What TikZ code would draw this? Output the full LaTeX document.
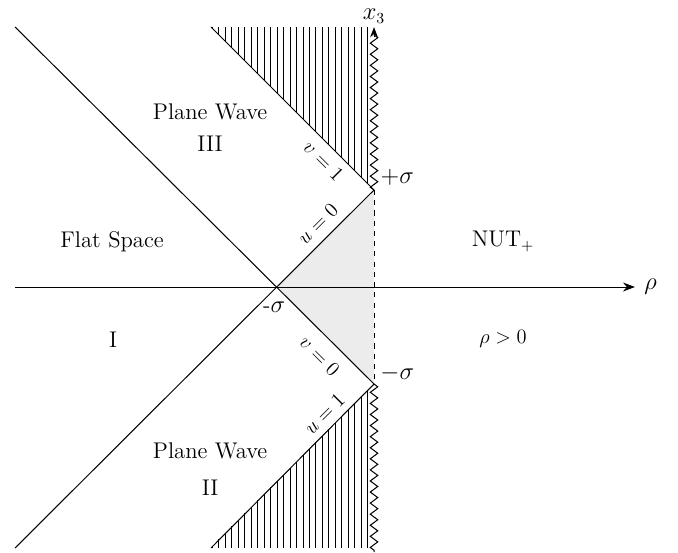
\documentclass[tikz,border=0pt]{standalone}
\usepackage{amsmath,amssymb}
\usepackage{tikz}
\usetikzlibrary{arrows.meta,decorations.pathmorphing}
\definecolor{coneshade}{RGB}{236,236,236}

\begin{document}
\begin{tikzpicture}[x=2cm, y=2cm, line width=0.6pt,
  wall/.style={decorate, decoration={zigzag, amplitude=2.2pt, segment length=6.5pt}},
  hatch/.style={line width=0.4pt},
  region/.style={font=\fontsize{13.3}{16}\selectfont},
  pointlabel/.style={font=\fontsize{13.3}{16}\selectfont, inner sep=1pt},
  onlabel/.style={font=\large, inner sep=0.5pt}]
\useasboundingbox (-2.856,-2.732) rectangle (4.134,2.959);
% corners of the diagram
\coordinate (O) at (0,0);
\coordinate (Pp) at (1,1);
\coordinate (Pm) at (1,-1);
\coordinate (TL) at (-2.70,2.68);
\coordinate (BL) at (-2.70,-2.69);
\coordinate (TH) at (-0.68,2.68);
\coordinate (BH) at (-0.68,-2.69);
\coordinate (Xl) at (-2.70,0);
\coordinate (Xr) at (3.69,0);
\coordinate (Yt) at (1,2.68);
\coordinate (Yb) at (1,-2.732);

% shaded triangle
\fill[coneshade] (O) -- (Pp) -- (Pm) -- cycle;

% hatching above v=1 and below u=1
\foreach \k in {1,...,25} {
  \draw[hatch] ({1-\k/15},{1+\k/15}) -- ({1-\k/15},2.68);
  \draw[hatch] ({1-\k/15},{-1-\k/15}) -- ({1-\k/15},-2.69);
}

% rho axis
\draw[-{Stealth[length=7pt]}] (Xl) -- (Xr);
\node[pointlabel] (rho) at (3.85,0) {$\rho$};

% light cone lines
\draw (TL) -- (Pm);
\draw (BL) -- (Pp);
\draw (TH) -- (Pp);
\draw (BH) -- (Pm);

% the wall at rho = sigma
\draw[dashed, line width=0.4pt] (Pp) -- (Pm);
\draw[wall] (Pp) -- (1,2.60);
\draw[-{Stealth[length=6pt]}] (1,2.58) -- (Yt);
\draw[wall] (Pm) -- (Yb);
\node[pointlabel] (x3) at (1,2.79) {$x_3$};

% labels of the lines
\node[onlabel, rotate=45] (u0) at (0.42,0.65) {$u=0$};
\node[onlabel, rotate=-45] (v0) at (0.44,-0.71) {$v=0$};
\node[onlabel, rotate=-45] (v1) at (0.48,1.30) {$v=1$};
\node[onlabel, rotate=45] (u1) at (0.49,-1.31) {$u=1$};

% points
\node[pointlabel] (sp) at (1.24,1.13) {$+\sigma$};
\node[pointlabel] (sm) at (1.24,-0.89) {$-\sigma$};
\node[pointlabel] (so) at (-0.03,-0.21) {-$\sigma$};

% regions
\node[region] (flat) at (-1.70,0.47) {Flat Space};
\node[region] (one) at (-1.69,-0.54) {I};
\node[region] (nut) at (2.33,0.47) {NUT$_+$};
\node[onlabel] (pos) at (2.33,-0.54) {$\rho>0$};
\node[region] (pw3) at (-0.69,1.81) {Plane Wave};
\node[region] (three) at (-0.69,1.48) {III};
\node[region] (pw2) at (-0.69,-1.69) {Plane Wave};
\node[region] (two) at (-0.69,-2.07) {II};
\end{tikzpicture}
\end{document}
